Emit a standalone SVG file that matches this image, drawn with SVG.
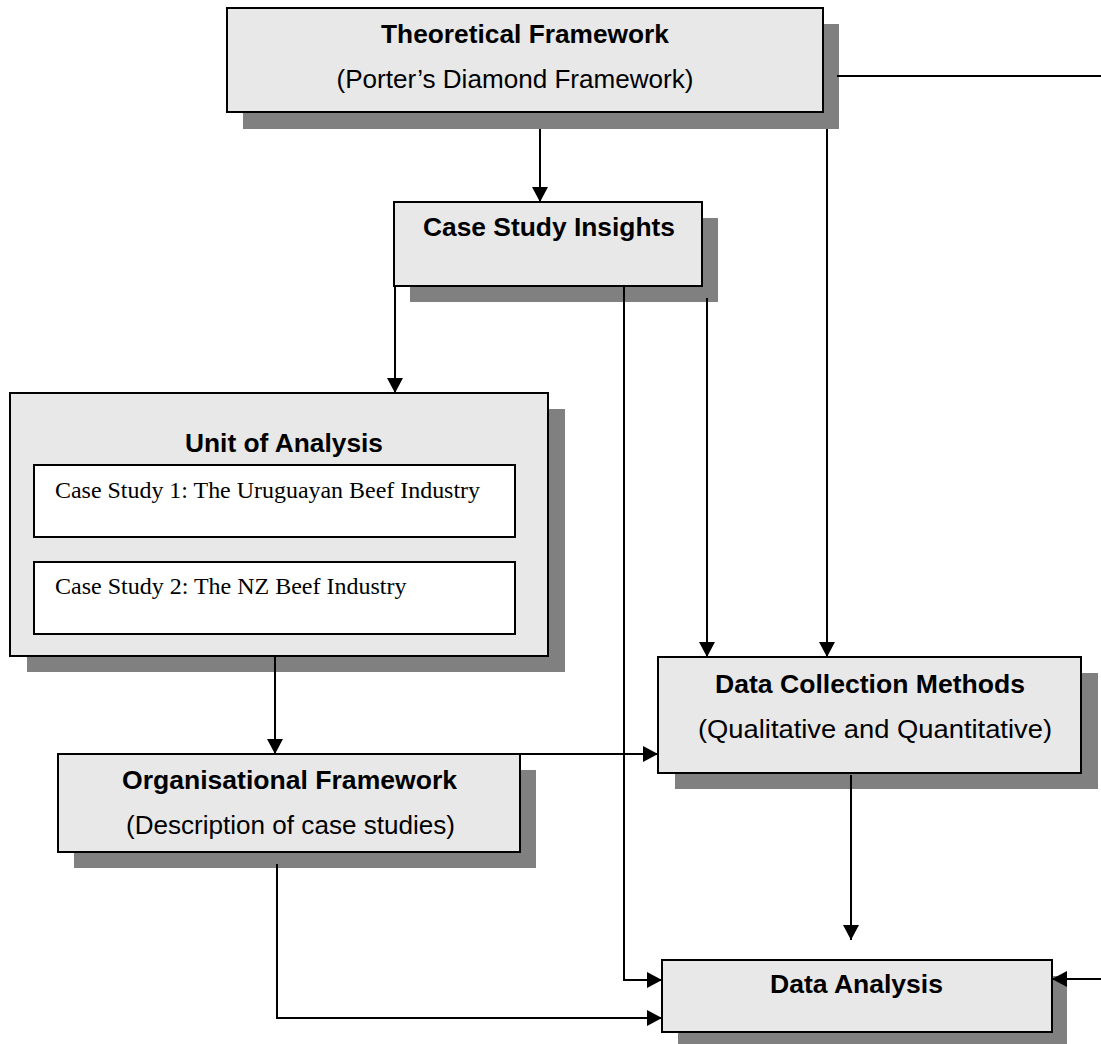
<svg xmlns="http://www.w3.org/2000/svg" width="1101" height="1044" viewBox="0 0 1101 1044">
  <defs>
    <style>
      .box { fill: #e8e8e8; stroke: #000; stroke-width: 2; }
      .inner { fill: #fff; stroke: #000; stroke-width: 2; }
      .shadow { fill: #808080; }
      .title { font-family: "Liberation Sans", Arial, sans-serif; font-weight: bold; font-size: 25px; fill: #000; text-anchor: middle; }
      .sub { font-family: "Liberation Sans", Arial, sans-serif; font-size: 25px; fill: #000; text-anchor: middle; }
      .case { font-family: "Liberation Serif", "Times New Roman", serif; font-size: 24px; fill: #000; }
      .conn { fill: none; stroke: #000; stroke-width: 2; }
    </style>
    <marker id="arrow" markerUnits="userSpaceOnUse" markerWidth="16" markerHeight="16" viewBox="0 0 15 16" refX="15" refY="8" orient="auto">
      <path d="M0,0 L15,8 L0,16 Z" fill="#000"/>
    </marker>
  </defs>

  <!-- Nodes -->
  <g id="theoretical-framework">
    <rect class="shadow" x="243" y="24" width="596" height="105"/>
    <rect class="box" x="227" y="8" width="596" height="104"/>
    <text class="title" x="525" y="43" textLength="288" lengthAdjust="spacingAndGlyphs">Theoretical Framework</text>
    <text class="sub" x="515" y="88" textLength="357" lengthAdjust="spacingAndGlyphs">(Porter’s Diamond Framework)</text>
  </g>

  <g id="case-study-insights">
    <rect class="shadow" x="410" y="218" width="308" height="84"/>
    <rect class="box" x="394" y="202" width="308" height="84"/>
    <text class="title" x="549" y="236" textLength="252" lengthAdjust="spacingAndGlyphs">Case Study Insights</text>
  </g>

  <g id="unit-of-analysis">
    <rect class="shadow" x="27" y="409" width="538" height="263"/>
    <rect class="box" x="10" y="393" width="538" height="263"/>
    <text class="title" x="284" y="452" textLength="198" lengthAdjust="spacingAndGlyphs">Unit of Analysis</text>
    <rect class="inner" x="34" y="465" width="481" height="72"/>
    <text class="case" x="55" y="498" textLength="425" lengthAdjust="spacingAndGlyphs">Case Study 1: The Uruguayan Beef Industry</text>
    <rect class="inner" x="34" y="562" width="481" height="72"/>
    <text class="case" x="55" y="594">Case Study 2: The NZ Beef Industry</text>
  </g>

  <g id="organisational-framework">
    <rect class="shadow" x="74" y="770" width="462" height="98"/>
    <rect class="box" x="58" y="754" width="462" height="98"/>
    <text class="title" x="289.5" y="789" textLength="335" lengthAdjust="spacingAndGlyphs">Organisational Framework</text>
    <text class="sub" x="290.5" y="834" textLength="329" lengthAdjust="spacingAndGlyphs">(Description of case studies)</text>
  </g>

  <g id="data-collection-methods">
    <rect class="shadow" x="675" y="673" width="423" height="116"/>
    <rect class="box" x="658" y="657" width="423" height="116"/>
    <text class="title" x="870" y="693" textLength="310" lengthAdjust="spacingAndGlyphs">Data Collection Methods</text>
    <text class="sub" x="875" y="738" textLength="354" lengthAdjust="spacingAndGlyphs">(Qualitative and Quantitative)</text>
  </g>

  <g id="data-analysis">
    <rect class="shadow" x="678" y="976" width="389" height="72"/>
    <rect class="box" x="662" y="960" width="390" height="72"/>
    <text class="title" x="856.5" y="993" textLength="173" lengthAdjust="spacingAndGlyphs">Data Analysis</text>
  </g>

  <!-- Connectors -->
  <g id="connectors">
    <!-- Theoretical Framework to Case Study Insights -->
    <line class="conn" x1="540" y1="129" x2="540" y2="202" marker-end="url(#arrow)"/>
    <!-- Theoretical Framework to Data Collection Methods -->
    <line class="conn" x1="827" y1="129" x2="827" y2="657" marker-end="url(#arrow)"/>
    <!-- Theoretical Framework around the right edge to Data Analysis -->
    <line class="conn" x1="837" y1="76" x2="1101" y2="76"/>
    <line class="conn" x1="1101" y1="979" x2="1052" y2="979" marker-end="url(#arrow)"/>
    <!-- Case Study Insights to Unit of Analysis -->
    <line class="conn" x1="395" y1="286" x2="395" y2="393" marker-end="url(#arrow)"/>
    <!-- Case Study Insights to Data Collection Methods -->
    <line class="conn" x1="707" y1="298" x2="707" y2="657" marker-end="url(#arrow)"/>
    <!-- Case Study Insights to Data Analysis -->
    <polyline class="conn" points="624,286 624,980 662,980" marker-end="url(#arrow)"/>
    <!-- Unit of Analysis to Organisational Framework -->
    <line class="conn" x1="275" y1="656" x2="275" y2="754" marker-end="url(#arrow)"/>
    <!-- Organisational Framework to Data Collection Methods -->
    <line class="conn" x1="520" y1="754" x2="658" y2="754" marker-end="url(#arrow)"/>
    <!-- Organisational Framework to Data Analysis -->
    <polyline class="conn" points="277,864 277,1018 662,1018" marker-end="url(#arrow)"/>
    <!-- Data Collection Methods to Data Analysis -->
    <line class="conn" x1="851" y1="775" x2="851" y2="940" marker-end="url(#arrow)"/>
  </g>
</svg>
